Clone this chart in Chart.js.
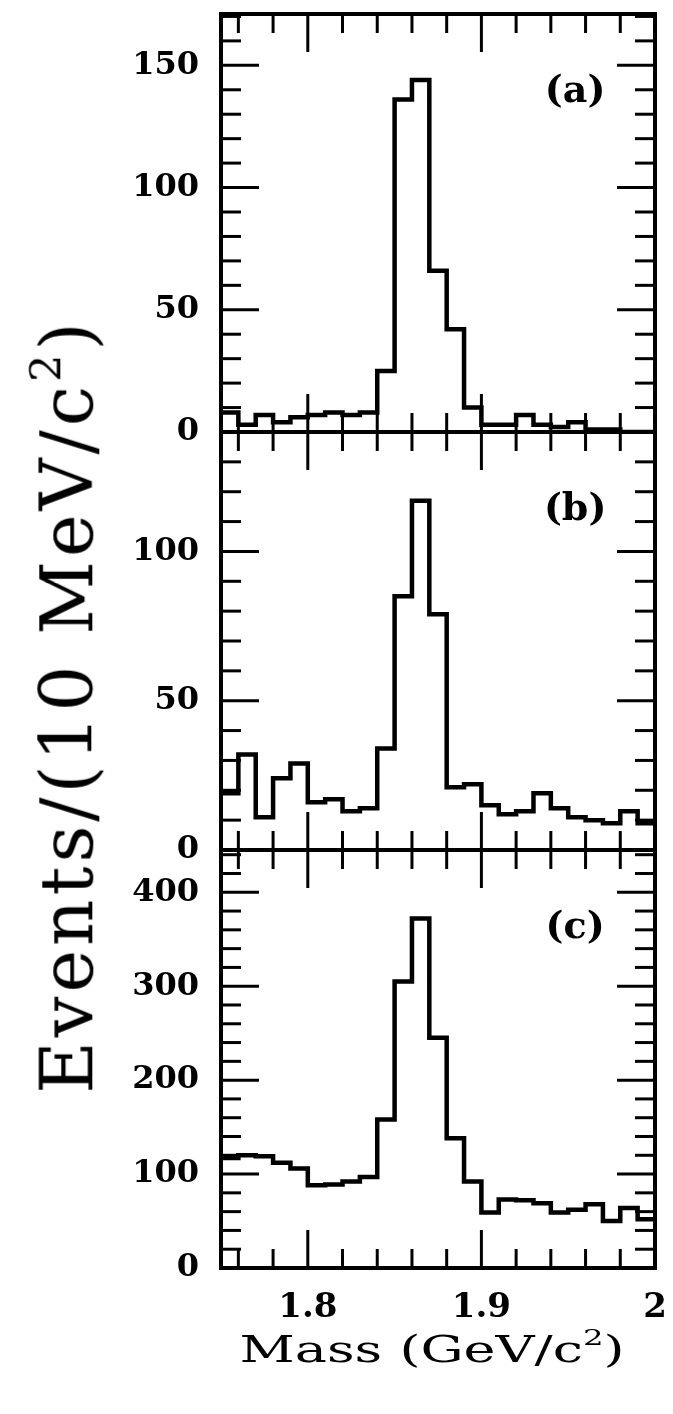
<!DOCTYPE html>
<html lang="en">
<head>
<meta charset="UTF-8">
<title>Mass spectra (a) (b) (c)</title>
<script src="https://cdn.jsdelivr.net/npm/chart.js@4.4.1/dist/chart.umd.min.js"></script>
<style>
  html, body { margin: 0; padding: 0; background: #fff; }
  #wrap { position: relative; width: 673px; height: 1414px; }
  #chart { position: absolute; left: 0; top: 0; }
  .title { position: absolute; white-space: nowrap; line-height: 1; color: #000; font-family: "DejaVu Serif", serif; }
  #ytitle { left: 64px; top: 706px; font-size: 72px; letter-spacing: 4px; transform: translate(-50%, -50%) rotate(-90deg); }
  #xtitle { left: 432px; top: 1347px; font-size: 38px; transform: translate(-50%, -50%) scaleX(1.42); }
  sup { font-size: 0.6em; vertical-align: 0.75em; }
</style>
</head>
<body>
<div id="wrap">
  <canvas id="chart" width="673" height="1414"></canvas>
  <div class="title" id="ytitle">Events/(10 MeV/c<sup>2</sup>)</div>
  <div class="title" id="xtitle">Mass (GeV/c<sup>2</sup>)</div>
</div>

<script>
// bin edges in GeV/c^2 (10 MeV bins)
const massEdges = [1.75, 1.76, 1.77, 1.78, 1.79, 1.80, 1.81, 1.82, 1.83, 1.84,
                   1.85, 1.86, 1.87, 1.88, 1.89, 1.90, 1.91, 1.92, 1.93, 1.94,
                   1.95, 1.96, 1.97, 1.98, 1.99, 2.00];

// events per bin
const countsA = [8, 3, 7, 4, 6, 7, 8, 7, 8, 25, 136, 144, 66, 42, 10, 3, 3, 7, 3, 2, 4, 1, 1, 0, 0];
const countsB = [19, 32, 11, 24, 29, 16, 17, 13, 14, 34, 85, 117, 79, 21, 22, 15, 12, 13, 19, 14, 11, 10, 9, 13, 9];
const countsC = [117, 120, 119, 112, 106, 88, 89, 92, 97, 158, 305, 372, 245, 138, 92, 59, 73, 72, 69, 59, 62, 68, 50, 64, 52];

const panelLabels = ['(a)', '(b)', '(c)'];
const panelMax = [171, 140, 445];
const panelStep = [50, 50, 100];
const panelMinor = [10, 10, 20];

const xTickValues = [1.76, 1.78, 1.80, 1.82, 1.84, 1.86, 1.88, 1.90, 1.92, 1.94, 1.96, 1.98];
const xLabelTicks = [1.8, 1.9, 2.0];

const panelIds = ['ya', 'yb', 'yc'];
const allCounts = [countsA, countsB, countsC];

// histogram outline: one point per left edge, plus closing point at the last edge
function steps(counts) {
  const pts = counts.map((c, i) => ({ x: massEdges[i], y: c }));
  pts.push({ x: massEdges[massEdges.length - 1], y: counts[counts.length - 1] });
  return pts;
}

// frame and inward ticks on every side of each panel
const frameTicks = {
  id: 'frameTicks',
  afterDatasetsDraw(chart) {
    const ctx = chart.ctx;
    const xs = chart.scales.x;
    const left = chart.chartArea.left, right = chart.chartArea.right;
    ctx.save();
    ctx.strokeStyle = '#000';
    ctx.fillStyle = '#000';
    ctx.lineCap = 'butt';
    function seg(x1, y1, x2, y2) {
      ctx.beginPath(); ctx.moveTo(x1, y1); ctx.lineTo(x2, y2); ctx.stroke();
    }
    panelIds.forEach((id, p) => {
      const ys = chart.scales[id];
      const top = ys.top, bottom = ys.bottom;
      ctx.lineWidth = 3;
      for (let v = panelMinor[p]; v < panelMax[p]; v += panelMinor[p]) {
        const py = ys.getPixelForValue(v);
        const len = v % panelStep[p] === 0 ? 38 : 20;
        seg(left, py, left + len, py);
        seg(right, py, right - len, py);
      }
      xTickValues.forEach(v => {
        const px = xs.getPixelForValue(v);
        const major = Math.abs(v * 10 - Math.round(v * 10)) < 1e-6;
        const len = major ? 38 : 19;
        seg(px, bottom, px, bottom - len);
        seg(px, top, px, top + len);
      });
      ctx.lineWidth = 4;
      ctx.strokeRect(left, top, right - left, bottom - top);

      ctx.font = 'bold 38px "DejaVu Serif"';
      ctx.textAlign = 'center';
      ctx.textBaseline = 'middle';
      ctx.fillText(panelLabels[p], xs.getPixelForValue(1.954), top + 78);
    });
    ctx.restore();
  }
};

const yAxis = (p) => ({
  type: 'linear',
  position: 'left',
  stack: 'panels',
  stackWeight: 1,
  min: 0,
  max: panelMax[p],
  grid: { display: false, drawTicks: false },
  border: { display: false },
  afterFit(scale) {
    scale.width = 221;
    scale.paddingTop = 0;
    scale.paddingBottom = 0;
  },
  ticks: {
    stepSize: panelStep[p],
    includeBounds: false,
    autoSkip: false,
    padding: 22,
    color: '#000',
    font: { family: 'DejaVu Serif', size: 32, weight: 'bold' }
  }
});

new Chart(document.getElementById('chart'), {
  type: 'line',
  data: {
    datasets: allCounts.map((counts, p) => ({
      data: steps(counts),
      yAxisID: panelIds[p],
      stepped: true,
      borderColor: '#000',
      borderWidth: 4.5,
      borderJoinStyle: 'miter',
      pointRadius: 0,
      fill: false
    }))
  },
  options: {
    responsive: false,
    devicePixelRatio: 1,
    animation: false,
    layout: { padding: { top: 14, right: 18, left: 0, bottom: 0 } },
    plugins: { legend: { display: false }, tooltip: { enabled: false } },
    scales: {
      x: {
        type: 'linear',
        min: 1.75,
        max: 2.0,
        grid: { display: false, drawTicks: false },
        border: { display: false },
        afterFit(scale) {
          scale.height = 146;
          scale.paddingLeft = 0;
          scale.paddingRight = 0;
        },
        afterBuildTicks(scale) { scale.ticks = xLabelTicks.map(v => ({ value: v })); },
        ticks: {
          padding: 20,
          color: '#000',
          font: { family: 'DejaVu Serif', size: 34, weight: 'bold' },
          callback: (v) => String(Math.round(v * 10) / 10)
        }
      },
      // stacked axes are laid out bottom-up, so (c) comes first
      yc: yAxis(2),
      yb: yAxis(1),
      ya: yAxis(0)
    }
  },
  plugins: [frameTicks]
});
</script>
</body>
</html>
